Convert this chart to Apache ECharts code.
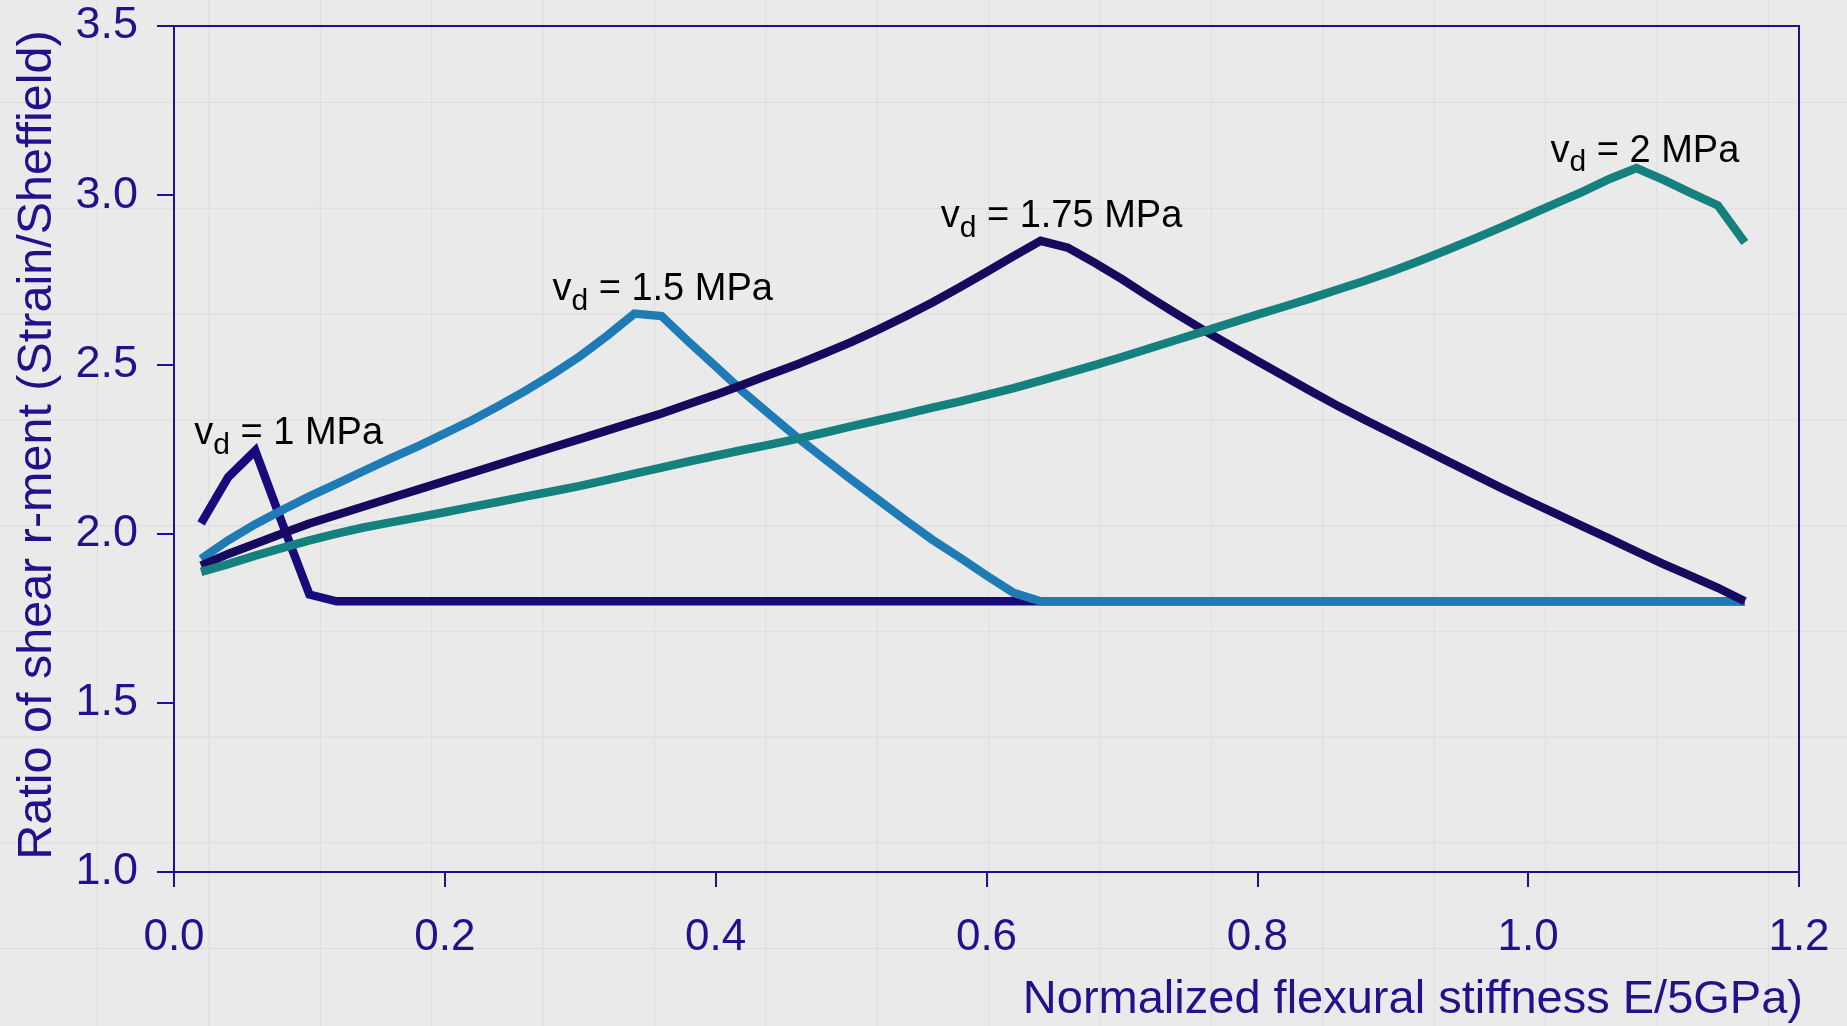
<!DOCTYPE html>
<html>
<head>
<meta charset="utf-8">
<script src="https://cdn.jsdelivr.net/npm/echarts@6/dist/echarts.min.js"></script>
<style>
  html, body { margin: 0; padding: 0; }
  body {
    width: 1847px; height: 1026px; overflow: hidden;
    background-color: #eaeaea;
    background-image:
      linear-gradient(to right, #dcdcdc 1px, transparent 1px),
      linear-gradient(to bottom, #dcdcdc 1px, transparent 1px);
    background-size: 111.4px 105.75px;
    background-position: 97px 102px;
  }
  #chart { width: 1847px; height: 1026px; }
</style>
</head>
<body>
<div id="chart"></div>
<script>
// x positions (normalized flexural stiffness)
const xValues = [0.02,0.04,0.06,0.08,0.10,0.12,0.14,0.16,0.18,0.20,
  0.22,0.24,0.26,0.28,0.30,0.32,0.34,0.36,0.38,0.40,
  0.42,0.44,0.46,0.48,0.50,0.52,0.54,0.56,0.58,0.60,
  0.62,0.64,0.66,0.68,0.70,0.72,0.74,0.76,0.78,0.80,
  0.82,0.84,0.86,0.88,0.90,0.92,0.94,0.96,0.98,1.00,
  1.02,1.04,1.06,1.08,1.10,1.12,1.14,1.16];

const vd1 = [2.03,2.167,2.245,2.03,1.82,1.80,1.80,1.80,1.80,1.80,
  1.80,1.80,1.80,1.80,1.80,1.80,1.80,1.80,1.80,1.80,
  1.80,1.80,1.80,1.80,1.80,1.80,1.80,1.80,1.80,1.80,
  1.80,1.80,1.80,1.80,1.80,1.80,1.80,1.80,1.80,1.80,
  1.80,1.80,1.80,1.80,1.80,1.80,1.80,1.80,1.80,1.80,
  1.80,1.80,1.80,1.80,1.80,1.80,1.80,1.80];

const vd15 = [1.925,1.98,2.028,2.07,2.11,2.147,2.185,2.222,2.258,2.296,
  2.335,2.378,2.423,2.472,2.525,2.585,2.65,2.643,2.567,2.494,
  2.42,2.352,2.285,2.222,2.16,2.10,2.04,1.982,1.93,1.876,
  1.825,1.80,1.80,1.80,1.80,1.80,1.80,1.80,1.80,1.80,
  1.80,1.80,1.80,1.80,1.80,1.80,1.80,1.80,1.80,1.80,
  1.80,1.80,1.80,1.80,1.80,1.80,1.80,1.80];

const vd175 = [1.905,1.94,1.97,2.0,2.03,2.055,2.08,2.105,2.13,2.155,
  2.18,2.205,2.23,2.255,2.28,2.305,2.33,2.355,2.383,2.41,
  2.44,2.47,2.50,2.532,2.566,2.603,2.642,2.683,2.727,2.773,
  2.82,2.865,2.845,2.80,2.752,2.70,2.65,2.602,2.556,2.51,
  2.465,2.42,2.376,2.335,2.295,2.255,2.215,2.175,2.135,2.097,
  2.06,2.022,1.985,1.947,1.91,1.875,1.84,1.80];

const vd2 = [1.887,1.91,1.935,1.958,1.98,2.0,2.018,2.033,2.048,2.063,
  2.079,2.094,2.11,2.125,2.141,2.159,2.177,2.195,2.213,2.23,
  2.247,2.263,2.28,2.298,2.317,2.335,2.353,2.372,2.39,2.41,
  2.43,2.452,2.475,2.498,2.522,2.547,2.572,2.597,2.622,2.647,
  2.671,2.696,2.722,2.748,2.776,2.806,2.838,2.871,2.905,2.94,
  2.975,3.01,3.048,3.08,3.045,3.007,2.97,2.86];

const seriesNames = ['1', '1.5', '1.75', '2'];
const seriesValues = [vd1, vd15, vd175, vd2];
const seriesColors = ['#170b7c', '#1f7bb6', '#170a5e', '#14817e'];
const labelOffsets = [[-61, -44], [-82, -51], [-100, -51], [-86, -44]];

const xTicks = ['0.0','0.2','0.4','0.6','0.8','1.0','1.2'];
const yTicks = ['1.0','1.5','2.0','2.5','3.0','3.5'];

const AXIS = '#23108c';
const FONT = '"Liberation Sans", Arial, sans-serif';

function pairs(vals) { return xValues.map((x, i) => [x, vals[i]]); }

const series = seriesValues.map((vals, k) => ({
  name: 'vd = ' + seriesNames[k] + ' MPa',
  type: 'line',
  data: pairs(vals),
  showSymbol: false,
  symbol: 'none',
  lineStyle: { color: seriesColors[k], width: 8.5, join: 'miter' },
  itemStyle: { color: seriesColors[k] },
  z: 2 + k,
  animation: false,
  markPoint: {
    symbol: 'circle',
    symbolSize: 0,
    data: [{ type: 'max' }],
    label: {
      show: true,
      position: 'inside',
      align: 'left',
      verticalAlign: 'top',
      offset: labelOffsets[k],
      formatter: '{v|v}{d|d}{t| = ' + seriesNames[k] + ' MPa}',
      rich: {
        v: { fontSize: 38, lineHeight: 38, color: '#000', fontFamily: FONT },
        d: { fontSize: 30, padding: [24, 0, 0, 0], color: '#000', fontFamily: FONT },
        t: { fontSize: 38, lineHeight: 38, color: '#000', fontFamily: FONT }
      }
    }
  }
}));

const chart = echarts.init(document.getElementById('chart'), null, { renderer: 'canvas' });
chart.setOption({
  backgroundColor: 'transparent',
  animation: false,
  grid: {
    left: 174, right: 48, top: 26, bottom: 154,
    show: true, borderColor: AXIS, borderWidth: 2, backgroundColor: 'transparent'
  },
  xAxis: {
    type: 'value', min: 0, max: 1.2, interval: 0.2,
    name: 'Normalized flexural stiffness E/5GPa)',
    nameLocation: 'end',
    nameGap: 4,
    nameTextStyle: { color: AXIS, fontSize: 47, fontFamily: FONT, align: 'right', verticalAlign: 'top', padding: [105, 0, 0, 0] },
    axisLine: { show: true, lineStyle: { color: AXIS, width: 2 } },
    axisTick: { show: true, inside: false, length: 15, lineStyle: { color: AXIS, width: 2 } },
    axisLabel: { color: AXIS, fontSize: 44, fontFamily: FONT, margin: 44,
      formatter: v => xTicks[Math.round(v / 0.2)] },
    splitLine: { show: false }
  },
  yAxis: {
    type: 'value', min: 1, max: 3.5, interval: 0.5,
    name: 'Ratio of shear r-ment (Strain/Sheffield)',
    nameLocation: 'middle',
    nameGap: 112,
    nameTextStyle: { color: AXIS, fontSize: 48.5, fontFamily: FONT, padding: [0, 0, 0, 8] },
    axisLine: { show: true, lineStyle: { color: AXIS, width: 2 } },
    axisTick: { show: true, inside: false, length: 17, lineStyle: { color: AXIS, width: 2 } },
    axisLabel: { color: AXIS, fontSize: 45, fontFamily: FONT, margin: 36,
      formatter: v => yTicks[Math.round((v - 1) / 0.5)] },
    splitLine: { show: false }
  },
  series: series
});
</script>
</body>
</html>
